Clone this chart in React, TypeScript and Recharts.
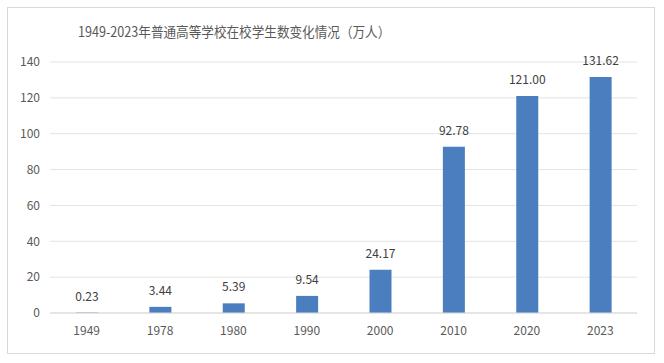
import { BarChart, Bar, XAxis, YAxis, CartesianGrid, LabelList } from "recharts";

const years = ["1949", "1978", "1980", "1990", "2000", "2010", "2020", "2023"];
const students = [0.23, 3.44, 5.39, 9.54, 24.17, 92.78, 121.0, 131.62];
const yTicks = [0, 20, 40, 60, 80, 100, 120, 140];

const data = years.map((year, i) => ({ year, value: students[i] }));

const font = "'Noto Sans CJK SC', 'Noto Sans', sans-serif";

export default function App() {
  return (
    <div style={{ position: "absolute", left: 0, top: 0, width: 664, height: 363, background: "#fff", fontFamily: font }}>
      <div
        style={{
          position: "absolute",
          left: 7,
          top: 7,
          width: 646,
          height: 345,
          border: "1px solid #d9d9d9",
        }}
      />
      <div
        style={{
          position: "absolute",
          left: 78,
          top: 21,
          fontSize: 14,
          lineHeight: "20px",
          color: "#595959",
          whiteSpace: "nowrap",
          transform: "scaleX(0.9)",
          transformOrigin: "left center",
        }}
      >
        1949-2023年普通高等学校在校学生数变化情况（万人）
      </div>
      <div style={{ position: "absolute", left: 0, top: 0 }}>
        <BarChart width={664} height={363} data={data} margin={{ top: 62, right: 27, left: 0, bottom: 20 }}>
          <CartesianGrid vertical={false} stroke="#e3e3e3" />
          <XAxis
            dataKey="year"
            axisLine={{ stroke: "#d9d9d9" }}
            tickLine={false}
            tickMargin={7}
            height={30}
            tick={{ fill: "#595959", fontSize: 12, fontFamily: font }}
          />
          <YAxis
            domain={[0, 140]}
            ticks={yTicks}
            width={50}
            axisLine={false}
            tickLine={false}
            tickMargin={4}
            tick={{ fill: "#595959", fontSize: 12, fontFamily: font }}
          />
          <Bar dataKey="value" fill="#4a7ebf" barSize={22} isAnimationActive={false}>
            <LabelList
              dataKey="value"
              position="top"
              offset={12}
              formatter={(v: any) => Number(v).toFixed(2)}
              style={{ fill: "#404040", fontSize: 12, fontFamily: font }}
            />
          </Bar>
        </BarChart>
      </div>
    </div>
  );
}
